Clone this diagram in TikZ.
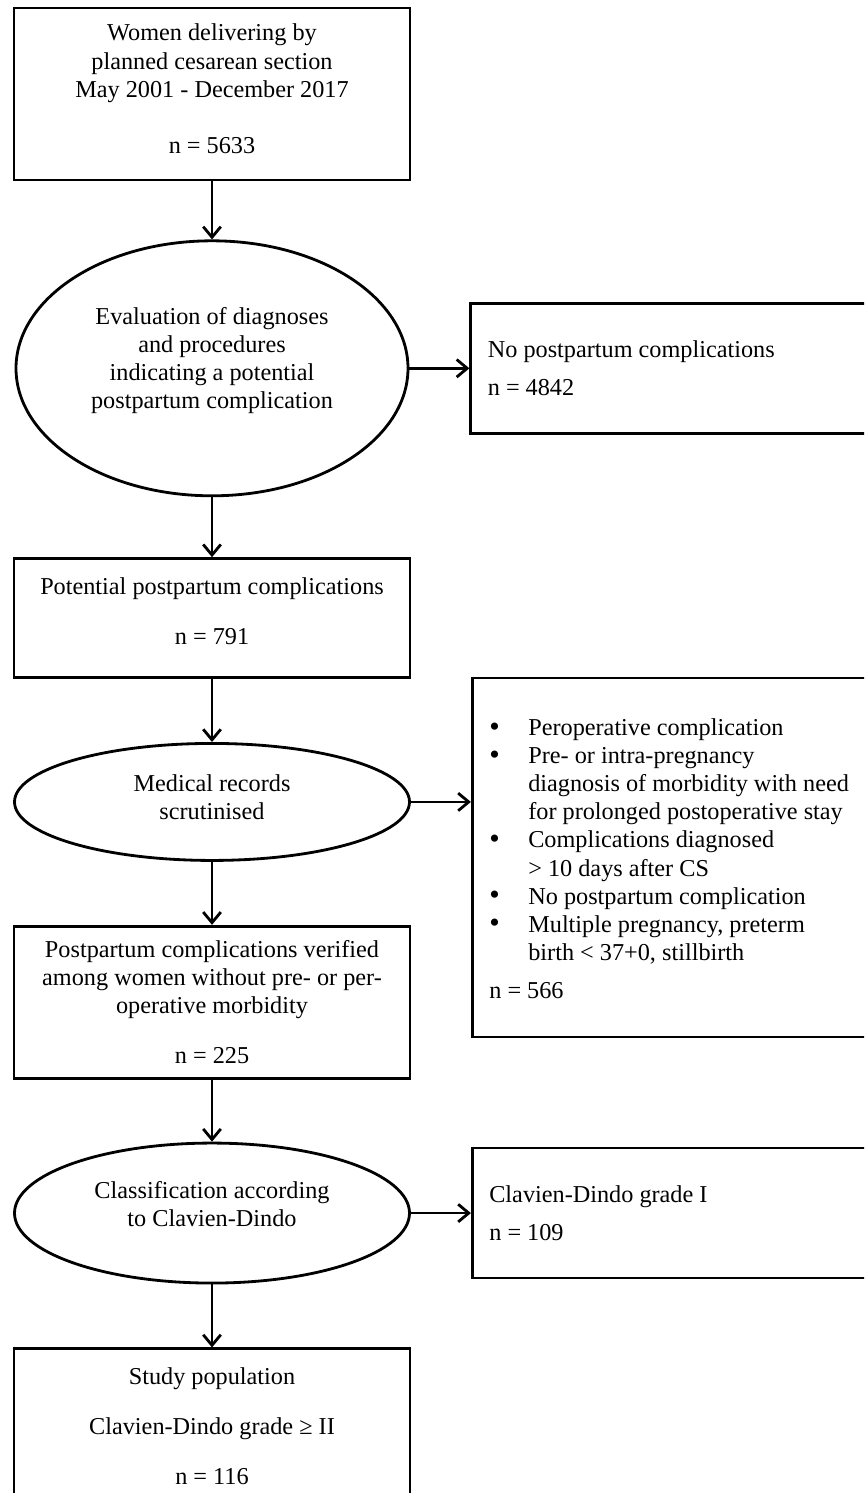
\documentclass[tikz,border=0pt]{standalone}
\usepackage{fontspec}
\setmainfont{Liberation Serif}
\usetikzlibrary{shapes.geometric, arrows.meta, positioning}

\newcommand{\blt}{\raisebox{-0.4pt}{\fontsize{17}{16}\selectfont\textbullet}}

\begin{document}
\begin{tikzpicture}[
    font=\fontsize{13.8}{16}\selectfont,
    line width=1.6pt,
    box/.style={rectangle, draw, align=center, inner sep=0pt, minimum width=7.92cm},
    oval/.style={ellipse, draw, align=center, inner sep=0pt, minimum width=7.9cm},
    side/.style={rectangle, draw, align=flush left, inner xsep=0.34cm, text width=7.7cm,
                 minimum height=2.6cm},
    flow/.style={-{Straight Barb[length=6pt,width=10pt]}}
]
    \clip (0,0) rectangle (17.28,-29.86);

    % Start
    \node[box, minimum height=3.44cm] (women) at (4.24,-1.88) {
        Women delivering by\\planned cesarean section\\May 2001 - December 2017\\[16pt]
        n = 5633\\[-10pt]
    };

    % Evaluation
    \node[oval, minimum width=7.84cm, minimum height=5.1cm, below=1.16cm of women] (eval) {
        Evaluation of diagnoses\\and procedures\\indicating a potential\\postpartum complication\\[-4pt]
    };
    \node[side, right=1.2cm of eval] (nocomp) {
        No postpartum complications\\[6pt]
        n = 4842
    };

    % Potential complications
    \node[box, minimum height=2.38cm, below=1.2cm of eval] (potential) {
        Potential postpartum complications\\[12.5pt]
        n = 791\\[-8pt]
    };

    % Records
    \node[oval, minimum height=2.34cm, below=1.26cm of potential] (records) {
        Medical records\\scrutinised\\[-10pt]
    };
    \node[side, minimum height=7.18cm, right=1.2cm of records, yshift=-1.11cm] (excluded) {
        \begin{tabular}{@{}p{0.78cm}@{}l@{}}
            \blt & Peroperative complication\\
            \blt & Pre- or intra-pregnancy\\
                 & diagnosis of morbidity with need\\
                 & for prolonged postoperative stay\\
            \blt & Complications diagnosed\\
                 & > 10 days after CS\\
            \blt & No postpartum complication\\
            \blt & Multiple pregnancy, preterm\\
                 & birth < 37+0, stillbirth
        \end{tabular}\\[7pt]
        n = 566
    };

    % Verified
    \node[box, minimum height=3.04cm, below=1.26cm of records] (verified) {
        Postpartum complications verified\\among women without pre- or per-\\operative morbidity\\[12.5pt]
        n = 225
    };

    % Classification
    \node[oval, minimum height=2.8cm, below=1.24cm of verified] (classif) {
        Classification according\\to Clavien-Dindo\\[-6pt]
    };
    \node[side, right=1.2cm of classif] (gradeone) {
        Clavien-Dindo grade I\\[6pt]
        n = 109
    };

    % Study population
    \node[box, minimum height=3.1cm, below=1.26cm of classif] (study) {
        Study population\\[12.5pt]
        Clavien-Dindo grade ≥ II\\[12.5pt]
        n = 116
    };

    \draw[flow] (women) -- (eval);
    \draw[flow] (eval) -- (potential);
    \draw[flow] (potential) -- (records);
    \draw[flow] (records) -- (verified);
    \draw[flow] (verified) -- (classif);
    \draw[flow] (classif) -- (study);

    \draw[flow] (eval) -- (nocomp);
    \draw[flow] (records) -- (records -| excluded.west);
    \draw[flow] (classif) -- (gradeone);
\end{tikzpicture}
\end{document}
